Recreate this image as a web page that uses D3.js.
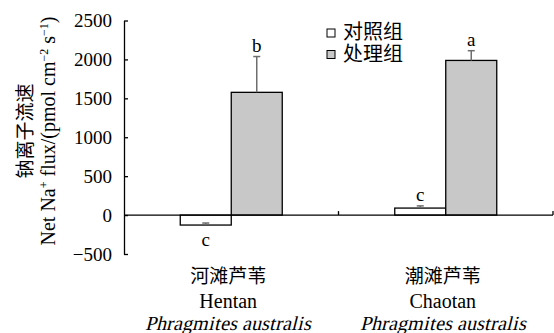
<!DOCTYPE html>
<html>
<head>
<meta charset="utf-8">
<script src="https://d3js.org/d3.v7.min.js"></script>
<style>
  @font-face { font-family: "SerifUp"; src: local("Liberation Serif"), local("LiberationSerif"), local("LiberationSerif-Regular"); font-style: normal; }
  body { margin: 0; background: #fff; }
  svg text { font-family: "Liberation Serif", "DejaVu Serif", "Noto Sans CJK SC", serif; fill: #000; }
  .ital { font-family: "SerifUp", "Liberation Serif", serif !important; font-style: italic; }
</style>
</head>
<body>
<svg width="554" height="333"></svg>
<script>
// data
var sites = ["Hentan", "Chaotan"];
var siteCn = ["河滩芦苇", "潮滩芦苇"];
var groups = ["对照组", "处理组"];
var controlVals = [-128, 90];
var controlErr = [26, 28];
var treatVals = [1577, 1987];
var treatErr = [460, 125];
var controlSig = ["c", "c"];
var treatSig = ["b", "a"];
var yTicks = [-500, 0, 500, 1000, 1500, 2000, 2500];

var svg = d3.select("svg");
var mLeft = 124, mRight = 553, mTop = 20.5, mBottom = 254;

var y = d3.scaleLinear().domain([-500, 2500]).range([mBottom, mTop]);
var x = d3.scaleBand().domain(sites).range([mLeft, mRight]).padding(0);
var xg = d3.scaleBand().domain(groups).range([0, 102]).padding(0);
var fills = ["#ffffff", "#c8c8c8"];

var rows = [];
sites.forEach(function(s, i) {
  rows.push({ site: s, g: groups[0], v: controlVals[i], e: controlErr[i], sig: controlSig[i] });
  rows.push({ site: s, g: groups[1], v: treatVals[i], e: treatErr[i], sig: treatSig[i] });
});

// y axis
var yAxis = svg.append("g")
  .attr("transform", "translate(" + mLeft + ",0)")
  .call(d3.axisLeft(y).tickValues(yTicks).tickFormat(d3.format("d"))
    .tickSizeInner(-4).tickSizeOuter(0).tickPadding(12));
yAxis.select(".domain").attr("stroke", "#000").attr("stroke-width", 1.3);
yAxis.selectAll(".tick line").attr("stroke", "#000").attr("stroke-width", 1.3);
yAxis.selectAll("text").style("font-size", "19px").style("font-family", "Liberation Serif").attr("fill", "#000");

// bars
var barX = function(d) { return x(d.site) + (x.bandwidth() - 102) / 2 + xg(d.g); };
svg.selectAll(".bar").data(rows).enter().append("rect")
  .attr("class", "bar")
  .attr("x", barX)
  .attr("y", function(d) { return y(Math.max(0, d.v)); })
  .attr("width", xg.bandwidth())
  .attr("height", function(d) { return Math.abs(y(d.v) - y(0)); })
  .attr("fill", function(d) { return fills[groups.indexOf(d.g)]; })
  .attr("stroke", "#000")
  .attr("stroke-width", 1.3);

// error bars
var eb = svg.selectAll(".err").data(rows).enter().append("g").attr("class", "err");
eb.append("line")
  .attr("x1", function(d) { return barX(d) + xg.bandwidth() / 2; })
  .attr("x2", function(d) { return barX(d) + xg.bandwidth() / 2; })
  .attr("y1", function(d) { return y(d.v); })
  .attr("y2", function(d) { return y(d.v + d.e); })
  .attr("stroke", "#6e6e6e").attr("stroke-width", 1.5);
eb.append("line")
  .attr("x1", function(d) { return barX(d) + xg.bandwidth() / 2 - 3.5; })
  .attr("x2", function(d) { return barX(d) + xg.bandwidth() / 2 + 3.5; })
  .attr("y1", function(d) { return y(d.v + d.e); })
  .attr("y2", function(d) { return y(d.v + d.e); })
  .attr("stroke", "#6e6e6e").attr("stroke-width", 1.5);

// significance letters
svg.selectAll(".sig").data(rows).enter().append("text")
  .attr("class", "sig")
  .attr("x", function(d) { return barX(d) + xg.bandwidth() / 2; })
  .attr("y", function(d) { return d.v < 0 ? y(d.v) + 21 : y(d.v + d.e) - 5; })
  .attr("text-anchor", "middle")
  .style("font-size", "19px")
  .text(function(d) { return d.sig; });

// x axis line at zero
var y0 = y(0);
svg.append("line").attr("x1", mLeft).attr("x2", mRight).attr("y1", y0).attr("y2", y0)
  .attr("stroke", "#000").attr("stroke-width", 1.3);
var xTickPos = sites.map(function(s) { return x(s); }).slice(1).concat([mRight]);
svg.selectAll(".xt").data(xTickPos).enter().append("line")
  .attr("x1", function(d) { return d; }).attr("x2", function(d) { return d; })
  .attr("y1", y0).attr("y2", y0 - 4)
  .attr("stroke", "#000").attr("stroke-width", 1.3);

// category labels
var cx = function(i) { return x(sites[i]) + x.bandwidth() / 2 - 3; };
sites.forEach(function(s, i) {
  svg.append("text").attr("x", cx(i)).attr("y", 283).attr("text-anchor", "middle")
    .style("font-size", "19px").text(siteCn[i]);
  svg.append("text").attr("x", cx(i)).attr("y", 308).attr("text-anchor", "middle")
    .style("font-size", "20px").text(s);
  svg.append("text").attr("class", "ital").attr("x", cx(i)).attr("y", 329.5).attr("text-anchor", "middle")
    .style("font-size", "20px")
    .text("Phragmites australis");
});

// y axis title
var yt = svg.append("g").attr("transform", "translate(0,131) rotate(-90)");
yt.append("text").attr("x", 0).attr("y", 32).attr("text-anchor", "middle")
  .style("font-size", "19px").text("钠离子流速");
var t2 = yt.append("text").attr("x", 0).attr("y", 55).attr("text-anchor", "middle")
  .style("font-size", "20px");
t2.append("tspan").text("Net Na");
t2.append("tspan").attr("dy", -7).style("font-size", "12px").text("+");
t2.append("tspan").attr("dy", 7).text(" flux/(pmol cm");
t2.append("tspan").attr("dy", -7).style("font-size", "12px").text("\u22122");
t2.append("tspan").attr("dy", 7).text(" s");
t2.append("tspan").attr("dy", -7).style("font-size", "12px").text("\u22121");
t2.append("tspan").attr("dy", 7).text(")");

// legend
var lg = svg.selectAll(".lg").data(groups).enter().append("g")
  .attr("transform", function(d, i) { return "translate(327," + (29 + i * 21.5) + ")"; });
lg.append("rect").attr("width", 8).attr("height", 8)
  .attr("fill", function(d, i) { return fills[i]; })
  .attr("stroke", "#000").attr("stroke-width", 1);
lg.append("text").attr("x", 16).attr("y", 10).style("font-size", "20px").text(function(d) { return d; });
</script>
</body>
</html>
